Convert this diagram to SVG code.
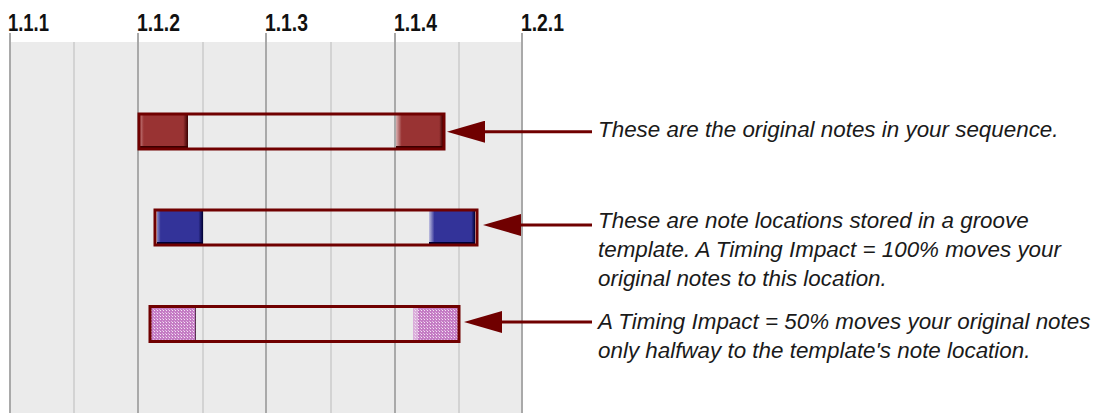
<svg xmlns="http://www.w3.org/2000/svg" width="1104" height="413" viewBox="0 0 1104 413">
  <style>
    .tick { font-family: "Liberation Sans", "DejaVu Sans", sans-serif; font-size: 24px; font-weight: bold; fill: #111; }
    .cap { font-family: "Liberation Sans", Arial, sans-serif; font-size: 22.4px; font-style: italic; fill: #1a1a1a; }
    .major { stroke: #a9a9a9; stroke-width: 2; }
    .minor { stroke: #d3d3d3; stroke-width: 2; }
    .frame { fill: none; stroke: #700000; stroke-width: 3; }
    .conn { stroke: #700000; stroke-width: 3; fill: none; }
  </style>
  <defs>
    <marker id="ah" viewBox="0 0 38 22" refX="28" refY="11" markerWidth="38" markerHeight="22" markerUnits="userSpaceOnUse" orient="auto">
      <path d="M0,0 L38,11 L0,22 Z" fill="#700000"/>
    </marker>
    <linearGradient id="redL" x1="0" y1="0" x2="1" y2="0">
      <stop offset="0" stop-color="#c27a7a"/>
      <stop offset="0.08" stop-color="#993333"/>
      <stop offset="0.9" stop-color="#993333"/>
      <stop offset="1" stop-color="#3a0000"/>
    </linearGradient>
    <linearGradient id="redR" x1="0" y1="0" x2="1" y2="0">
      <stop offset="0" stop-color="#d8b0b0"/>
      <stop offset="0.12" stop-color="#993333"/>
      <stop offset="0.92" stop-color="#993333"/>
      <stop offset="1" stop-color="#3a0000"/>
    </linearGradient>
    <linearGradient id="bluL" x1="0" y1="0" x2="1" y2="0">
      <stop offset="0" stop-color="#8a8ac4"/>
      <stop offset="0.08" stop-color="#333399"/>
      <stop offset="0.9" stop-color="#333399"/>
      <stop offset="1" stop-color="#000033"/>
    </linearGradient>
    <linearGradient id="bluR" x1="0" y1="0" x2="1" y2="0">
      <stop offset="0" stop-color="#c0c0e0"/>
      <stop offset="0.12" stop-color="#333399"/>
      <stop offset="0.92" stop-color="#333399"/>
      <stop offset="1" stop-color="#000033"/>
    </linearGradient>
    <pattern id="dots" width="3" height="3" patternUnits="userSpaceOnUse">
      <rect width="3" height="3" fill="#c47cc4"/>
      <rect x="1" y="1" width="1" height="1" fill="#f4e4f4"/>
      <rect x="0" y="0" width="1" height="1" fill="#e2b6e2"/>
    </pattern>
  </defs>

  <g id="grid">
    <rect x="10" y="42" width="513" height="371" fill="#ebebeb"/>
    <line class="minor" x1="74" y1="42" x2="74" y2="413"/>
    <line class="minor" x1="203" y1="42" x2="203" y2="413"/>
    <line class="minor" x1="331" y1="42" x2="331" y2="413"/>
    <line class="minor" x1="459" y1="42" x2="459" y2="413"/>
    <line class="major" x1="10" y1="33" x2="10" y2="413"/>
    <line class="major" x1="138" y1="33" x2="138" y2="413"/>
    <line class="major" x1="266" y1="33" x2="266" y2="413"/>
    <line class="major" x1="395" y1="33" x2="395" y2="413"/>
    <line class="major" x1="522" y1="33" x2="522" y2="413"/>
    <text class="tick" x="8" y="31" textLength="41" lengthAdjust="spacingAndGlyphs">1.1.1</text>
    <text class="tick" x="137" y="31" textLength="43" lengthAdjust="spacingAndGlyphs">1.1.2</text>
    <text class="tick" x="265" y="31" textLength="43" lengthAdjust="spacingAndGlyphs">1.1.3</text>
    <text class="tick" x="394" y="31" textLength="43" lengthAdjust="spacingAndGlyphs">1.1.4</text>
    <text class="tick" x="521" y="31" textLength="43" lengthAdjust="spacingAndGlyphs">1.2.1</text>
  </g>

  <g id="original-notes">
    <rect x="140" y="115" width="48" height="33" fill="url(#redL)"/>
    <rect x="140" y="146" width="48" height="2" fill="#3a0000"/>
    <rect x="396" y="115" width="47" height="33" fill="url(#redR)"/>
    <rect x="396" y="146" width="47" height="2" fill="#3a0000"/>
    <rect class="frame" x="139" y="114" width="305" height="35"/>
  </g>

  <g id="groove-notes">
    <rect x="157" y="211" width="46" height="33" fill="url(#bluL)"/>
    <rect x="157" y="242" width="46" height="2" fill="#000033"/>
    <rect x="429" y="211" width="46" height="33" fill="url(#bluR)"/>
    <rect x="429" y="242" width="46" height="2" fill="#000033"/>
    <rect class="frame" x="155" y="210" width="322" height="35"/>
  </g>

  <g id="half-notes">
    <rect x="151" y="307" width="45" height="34" fill="url(#dots)"/>
    <rect x="195" y="307" width="1" height="34" fill="#2a1020" opacity="0.7"/>
    <rect x="413" y="307" width="45" height="34" fill="url(#dots)"/>
    <rect x="413" y="307" width="5" height="34" fill="#f0e0f0" opacity="0.5"/>
    <rect class="frame" x="150" y="306.5" width="309" height="35"/>
  </g>

  <g id="connectors">
    <line class="conn" x1="592" y1="131.7" x2="457" y2="131.7" marker-end="url(#ah)"/>
    <line class="conn" x1="592" y1="225" x2="493" y2="225" marker-end="url(#ah)"/>
    <line class="conn" x1="592" y1="322" x2="474" y2="322" marker-end="url(#ah)"/>
  </g>

  <g id="label-original">
    <text class="cap" x="598" y="136.5">These are the original notes in your sequence.</text>
  </g>
  <g id="label-groove">
    <text class="cap" x="598" y="228">These are note locations stored in a groove</text>
    <text class="cap" x="598" y="257">template. A Timing Impact = 100% moves your</text>
    <text class="cap" x="598" y="286">original notes to this location.</text>
  </g>
  <g id="label-half">
    <text class="cap" x="598" y="329">A Timing Impact = 50% moves your original notes</text>
    <text class="cap" x="598" y="358">only halfway to the template's note location.</text>
  </g>
</svg>
